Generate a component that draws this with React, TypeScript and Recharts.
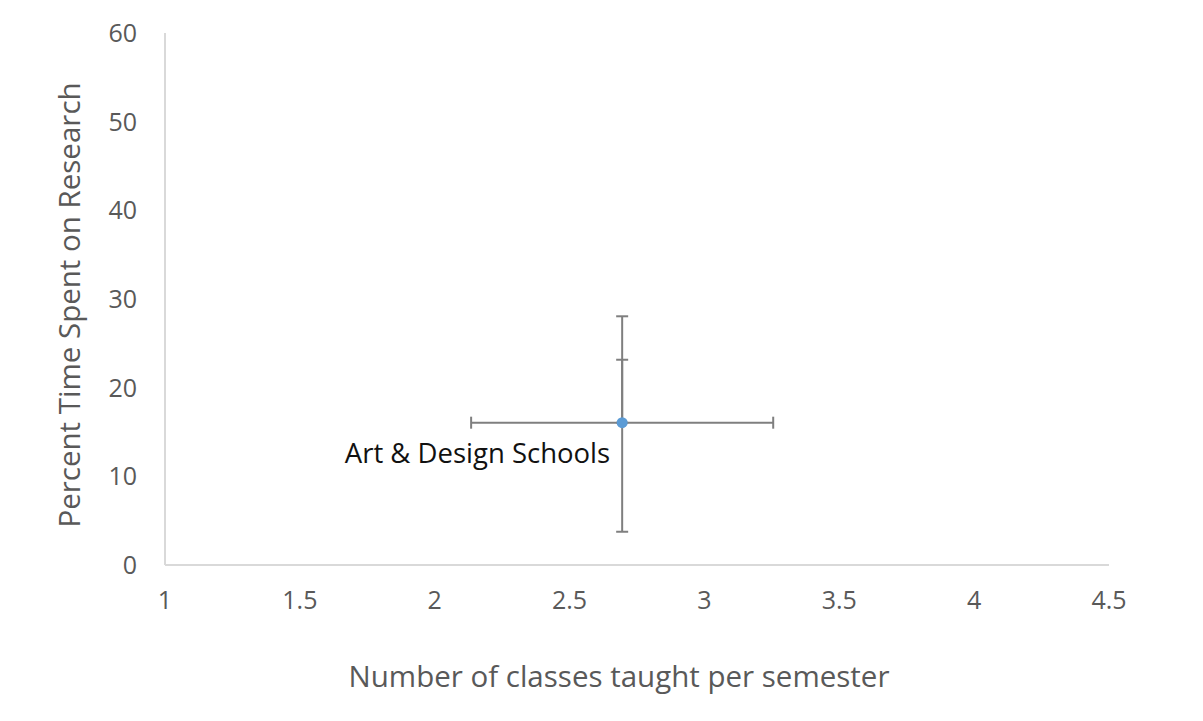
import React from "react";
import {
  ScatterChart,
  Scatter,
  XAxis,
  YAxis,
  ErrorBar,
  LabelList,
  Label,
} from "recharts";

// One school group: mean classes per semester vs mean research share
const groupNames = ["Art & Design Schools"];
const classesTaught = [2.695];
const researchPercent = [16.05];
const classesError = [0.56];
const researchError: [number, number][] = [[12.3, 12.0]];
const researchInnerError: [number, number][] = [[0, 7.1]];

const xTicks = [1, 1.5, 2, 2.5, 3, 3.5, 4, 4.5];
const yTicks = [0, 10, 20, 30, 40, 50, 60];

const data = groupNames.map((name, i) => ({
  name,
  x: classesTaught[i],
  y: researchPercent[i],
  xErr: classesError[i],
  yErr: researchError[i],
  yErrInner: researchInnerError[i],
}));

const FONT = "'Open Sans', Lato, sans-serif";
const TICK_COLOR = "#595959";
const AXIS_COLOR = "#d9d9d9";
const ERR_COLOR = "#7f7f7f";
const POINT_COLOR = "#5B9BD5";

function Dot(props: any) {
  return <circle cx={props.cx} cy={props.cy} r={5.5} fill={POINT_COLOR} />;
}

function PointLabel(props: any) {
  const box = props.viewBox ?? props;
  const cx = (box.x ?? 0) + (box.width ?? 0) / 2;
  const cy = (box.y ?? 0) + (box.height ?? 0) / 2;
  return (
    <text
      x={cx - 12}
      y={cy + 30}
      textAnchor="end"
      dominantBaseline="central"
      fill="#111"
      fontFamily={FONT}
      fontSize={27.5}
    >
      {props.value}
    </text>
  );
}

function XTitle(props: any) {
  const { x, width } = props.viewBox;
  return (
    <text
      x={x + width / 2 - 18}
      y={675}
      textAnchor="middle"
      dominantBaseline="central"
      fill={TICK_COLOR}
      fontFamily={FONT}
      fontSize={29.5}
    >
      Number of classes taught per semester
    </text>
  );
}

function YTitle(props: any) {
  const { y, height } = props.viewBox;
  const cx = 68;
  const cy = y + height / 2 + 6;
  return (
    <text
      x={cx}
      y={cy}
      transform={`rotate(-90 ${cx} ${cy})`}
      textAnchor="middle"
      dominantBaseline="central"
      fill={TICK_COLOR}
      fontFamily={FONT}
      fontSize={29.5}
    >
      Percent Time Spent on Research
    </text>
  );
}

export default function App() {
  return (
    <div style={{ position: "absolute", left: 0, top: 0, background: "#fff" }}>
      <ScatterChart
        width={1203}
        height={721}
        margin={{ top: 33, right: 94, left: 0, bottom: 66 }}
      >
        <XAxis
          type="number"
          dataKey="x"
          domain={[1, 4.5]}
          ticks={xTicks}
          allowDataOverflow
          stroke={AXIS_COLOR}
          strokeWidth={2}
          tickLine={false}
          tickSize={0}
          tickMargin={26}
          height={90}
          tick={{ fill: TICK_COLOR, fontFamily: FONT, fontSize: 25 }}
        >
          <Label content={XTitle} />
        </XAxis>
        <YAxis
          type="number"
          dataKey="y"
          domain={[0, 60]}
          ticks={yTicks}
          allowDataOverflow
          width={165}
          stroke={AXIS_COLOR}
          strokeWidth={2}
          tickLine={false}
          tickSize={0}
          tickMargin={28}
          tick={{ fill: TICK_COLOR, fontFamily: FONT, fontSize: 25 }}
        >
          <Label content={YTitle} />
        </YAxis>
        <Scatter data={data} fill={POINT_COLOR} shape={Dot} isAnimationActive={false}>
          <ErrorBar dataKey="xErr" direction="x" width={6} stroke={ERR_COLOR} strokeWidth={2} />
          <ErrorBar dataKey="yErr" direction="y" width={6} stroke={ERR_COLOR} strokeWidth={2} />
          <ErrorBar dataKey="yErrInner" direction="y" width={6} stroke={ERR_COLOR} strokeWidth={2} />
          <LabelList dataKey="name" content={PointLabel} />
        </Scatter>
      </ScatterChart>
    </div>
  );
}
